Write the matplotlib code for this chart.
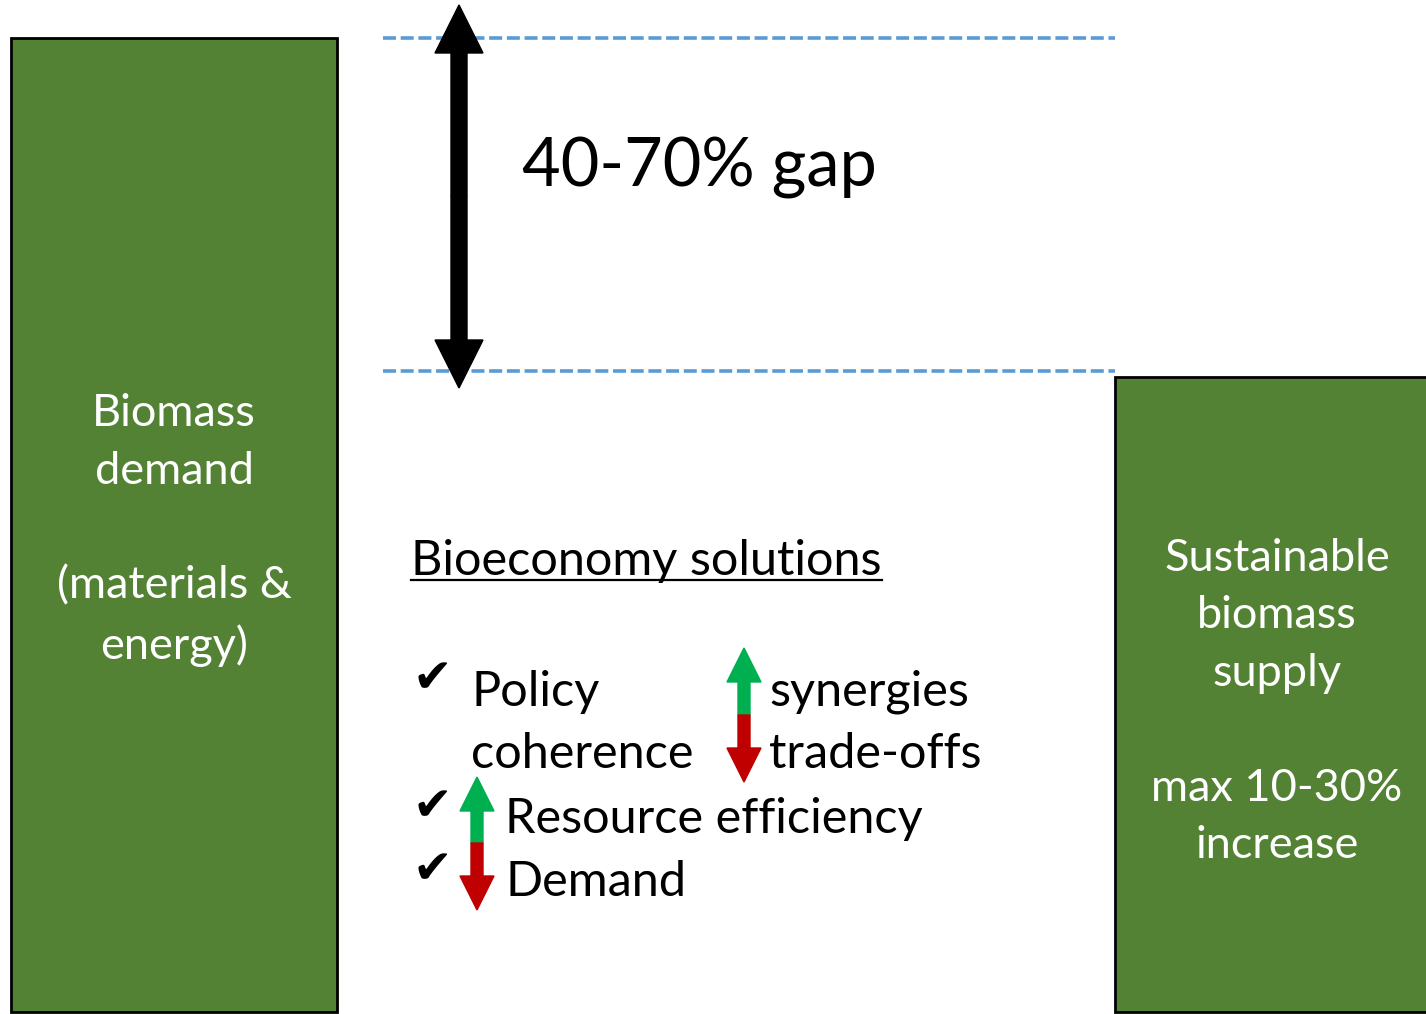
import matplotlib.pyplot as plt
import matplotlib.patches as mpatches

# Bars (image-pixel style coordinates, y measured up from the bottom)
bar_names = ["demand", "supply"]
bar_left = [11, 1115]
bar_width = [326, 330]
bar_top = [976, 637]
bar_bottom = 2
bar_labels = ["Biomass\ndemand\n\n(materials &\nenergy)",
              "Sustainable\nbiomass\nsupply\n\nmax 10-30%\nincrease"]
gap_levels = [976, 643]
gap_label = "40-70% gap"

GREEN = "#548235"
BLUE = "#5B9BD5"
UP = "#00B050"
DOWN = "#C00000"
FONT = ["Lato", "DejaVu Sans"]

plt.rcParams['font.family'] = FONT

fig = plt.figure(figsize=(14.26, 10.14), dpi=100)
ax = fig.add_axes([0, 0, 1, 1])
ax.set_xlim(0, 1426)
ax.set_ylim(0, 1014)
ax.axis("off")

# green bars
for x, w, top in zip(bar_left, bar_width, bar_top):
    ax.bar(x, top - bar_bottom, width=w, bottom=bar_bottom, align="edge",
           color=GREEN, edgecolor="black", linewidth=2, zorder=2)

ax.text(174, 484, bar_labels[0], color="white", fontsize=32.5, ha="center",
        va="center", linespacing=1.5, zorder=4)
ax.text(1277, 312, bar_labels[1], color="white", fontsize=32.5, ha="center",
        va="center", linespacing=1.5, zorder=4)

# dashed level lines
for y in gap_levels:
    ax.hlines(y, 383, 1115, colors=BLUE, linestyles=(0, (3.6, 1.3)),
              linewidth=2.6, zorder=1)

# double headed black arrow
mid = (1009 + 626) / 2
for end in (1009, 626):
    ax.add_patch(mpatches.FancyArrow(459, mid, 0, end - mid, width=16,
                                     head_width=48, head_length=48,
                                     length_includes_head=True,
                                     color="black", zorder=3))

ax.text(522, 846, gap_label, fontsize=48, ha="left", va="center")

# solutions block
fs = 35
t = ax.text(411, 439, "Bioeconomy solutions", fontsize=fs, ha="left",
            va="baseline")
fig.canvas.draw()
bb = t.get_window_extent().transformed(ax.transData.inverted())
ax.plot([bb.x0, bb.x1], [434, 434], color="black", linewidth=1.6)

ax.text(471, 308, "Policy", fontsize=fs, va="baseline")
ax.text(471, 246, "coherence", fontsize=fs, va="baseline")
ax.text(769, 308, "synergies", fontsize=fs, va="baseline")
ax.text(769, 246, "trade-offs", fontsize=fs, va="baseline")
ax.text(505, 181, "Resource efficiency", fontsize=fs, va="baseline")
ax.text(505, 118, "Demand", fontsize=fs, va="baseline")

for y in (334, 206, 143):
    ax.text(432, y, "\u2714", fontsize=34, ha="center", va="center",
            family=["DejaVu Sans"])


def small_arrow(x, y0, y1, color):
    ax.add_patch(mpatches.FancyArrow(x, y0, 0, y1 - y0, width=12,
                                     head_width=34, head_length=34,
                                     length_includes_head=True,
                                     color=color, zorder=3))


small_arrow(744, 299, 366, UP)
small_arrow(744, 299, 232, DOWN)
small_arrow(477, 171, 237, UP)
small_arrow(477, 171, 104, DOWN)

fig.savefig("out.png", dpi=100)
